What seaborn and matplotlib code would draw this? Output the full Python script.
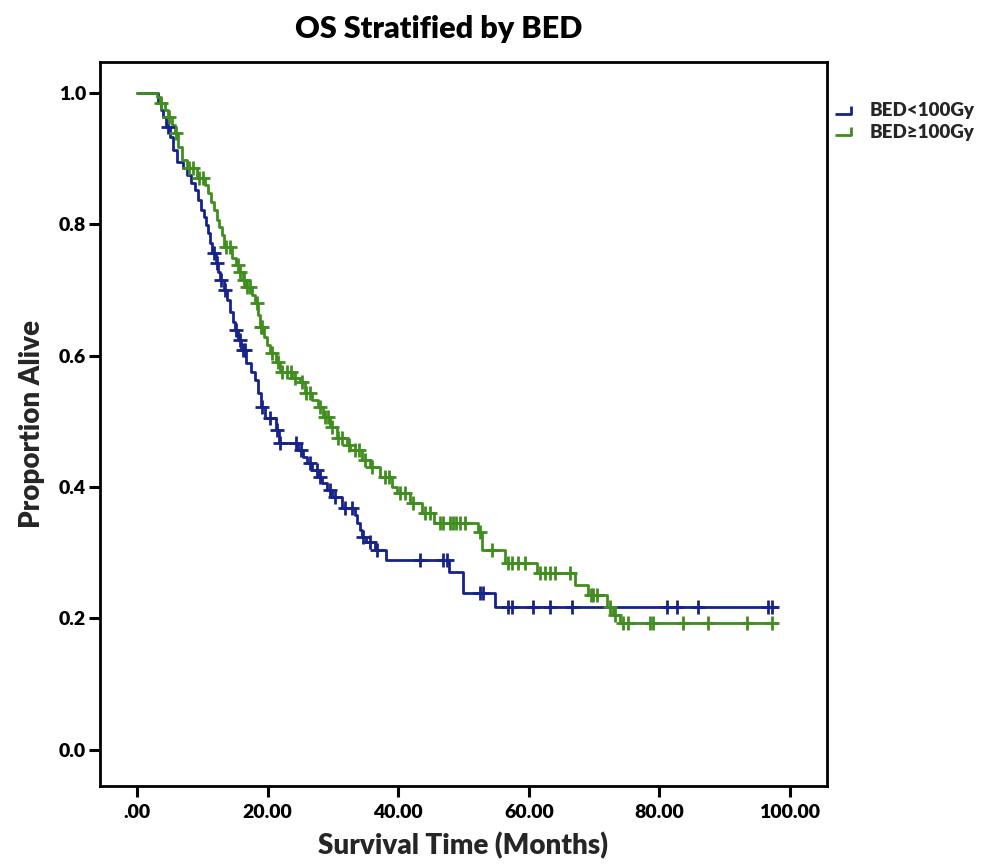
import numpy as np
import pandas as pd
import seaborn as sns
import matplotlib.pyplot as plt
from matplotlib.lines import Line2D
from matplotlib.path import Path

# Kaplan-Meier step data (months, proportion alive)
low_label = "BED<100Gy"
high_label = "BED≥100Gy"

low_time = [0.0, 3.2, 3.7, 4.0, 4.4, 5.1, 5.5, 6.1, 7.0, 7.7, 8.3, 8.9, 9.3, 9.8,
            10.3, 10.6, 10.9, 11.2, 11.5, 12.1, 12.4, 12.7, 13.3, 13.8, 14.2, 14.7,
            15.0, 15.5, 15.9, 16.7, 17.5, 18.1, 18.5, 19.0, 19.6, 21.3, 21.7, 24.7,
            25.4, 26.0, 26.8, 27.7, 28.3, 29.1, 29.9, 31.4, 33.4, 33.7, 34.1, 34.5,
            35.1, 36.4, 38.1, 47.8, 49.9, 54.8, 98.0]
low_surv = [1.0, 0.985, 0.974, 0.963, 0.948, 0.933, 0.913, 0.895, 0.886, 0.875, 0.863,
            0.852, 0.837, 0.822, 0.811, 0.799, 0.787, 0.772, 0.756, 0.741, 0.728, 0.715,
            0.700, 0.685, 0.667, 0.651, 0.639, 0.624, 0.609, 0.589, 0.575, 0.563, 0.543,
            0.522, 0.505, 0.487, 0.467, 0.457, 0.446, 0.437, 0.426, 0.416, 0.406, 0.396,
            0.385, 0.368, 0.358, 0.346, 0.335, 0.324, 0.317, 0.304, 0.289, 0.271, 0.239,
            0.218, 0.218]
low_censor = [4.7, 11.8, 12.3, 12.9, 13.4, 15.2, 15.7, 16.2, 16.5, 19.2, 20.4, 21.4,
              21.9, 24.4, 25.1, 26.5, 27.5, 28.0, 29.5, 30.3, 31.8, 32.9, 34.6, 35.7,
              36.8, 43.3, 46.9, 47.5, 52.5, 53.0, 56.8, 57.4, 60.6, 63.2, 66.6, 81.2,
              82.7, 85.9, 96.6, 97.2]

high_time = [0.0, 3.1, 3.5, 4.3, 4.7, 5.4, 5.8, 6.3, 6.9, 7.7, 9.2, 10.4, 10.9, 11.3,
             11.8, 12.3, 12.6, 13.0, 13.3, 14.5, 15.2, 15.6, 16.2, 16.7, 17.6, 18.1,
             18.5, 18.8, 19.4, 19.9, 20.4, 21.3, 21.9, 23.7, 25.0, 25.7, 26.8, 27.7,
             28.5, 29.6, 30.6, 32.2, 32.6, 34.5, 35.7, 37.2, 39.1, 39.8, 41.8, 43.6,
             45.5, 52.2, 52.8, 56.4, 61.3, 67.1, 69.1, 72.0, 72.9, 74.0, 98.0]
high_surv = [1.0, 0.994, 0.985, 0.974, 0.963, 0.951, 0.939, 0.918, 0.898, 0.886, 0.871,
             0.860, 0.848, 0.834, 0.822, 0.807, 0.796, 0.784, 0.766, 0.749, 0.738, 0.728,
             0.715, 0.705, 0.693, 0.680, 0.662, 0.644, 0.629, 0.616, 0.604, 0.591, 0.575,
             0.566, 0.560, 0.543, 0.533, 0.522, 0.507, 0.492, 0.475, 0.464, 0.457, 0.441,
             0.431, 0.416, 0.400, 0.391, 0.376, 0.361, 0.346, 0.332, 0.304, 0.285, 0.269,
             0.251, 0.236, 0.218, 0.205, 0.193, 0.193]
high_censor = [3.7, 4.9, 6.0, 7.9, 8.6, 9.4, 10.1, 13.6, 14.2, 15.4, 15.8, 16.4, 16.9,
               17.3, 18.3, 18.9, 19.1, 20.6, 21.5, 22.2, 23.0, 23.5, 24.2, 25.3, 25.9,
               26.5, 28.0, 28.8, 29.2, 29.9, 30.8, 31.4, 32.4, 33.4, 34.0, 34.9, 36.0,
               38.0, 38.6, 40.3, 41.0, 42.3, 44.1, 44.8, 46.4, 46.8, 47.9, 48.4, 48.8,
               49.5, 50.2, 52.5, 54.4, 56.8, 57.4, 58.3, 59.4, 61.7, 62.5, 63.2, 64.0,
               66.3, 69.5, 69.9, 70.4, 72.5, 73.2, 74.4, 75.2, 78.6, 79.0, 83.6, 87.4,
               93.4, 97.2]

x_ticks = [0, 20, 40, 60, 80, 100]
x_ticklabels = [".00", "20.00", "40.00", "60.00", "80.00", "100.00"]
y_ticks = [0.0, 0.2, 0.4, 0.6, 0.8, 1.0]
y_ticklabels = ["0.0", "0.2", "0.4", "0.6", "0.8", "1.0"]

palette = {low_label: "#16238a", high_label: "#3f8e1f"}
WEIGHT = "heavy"


def km_frame(label, time, surv, censor):
    steps = pd.DataFrame({"time": time, "surv": surv, "group": label})
    t = np.asarray(time)
    s = np.asarray(surv)
    idx = np.searchsorted(t, censor, side="right") - 1
    marks = pd.DataFrame({"time": censor, "surv": s[idx], "group": label})
    return steps, marks


low_steps, low_marks = km_frame(low_label, low_time, low_surv, low_censor)
high_steps, high_marks = km_frame(high_label, high_time, high_surv, high_censor)

sns.set_theme(style="ticks")
plt.rcParams["font.family"] = ["Lato", "DejaVu Sans"]
plt.rcParams["font.weight"] = WEIGHT
plt.rcParams["xtick.bottom"] = True
plt.rcParams["ytick.left"] = True

fig = plt.figure(figsize=(10.04, 8.67), dpi=100)
ax = fig.add_axes([0.0996, 0.0934, 0.7241, 0.8351])

for steps, marks in [(low_steps, low_marks), (high_steps, high_marks)]:
    color = palette[steps["group"].iloc[0]]
    sns.lineplot(data=steps, x="time", y="surv", ax=ax, color=color,
                 drawstyle="steps-post", estimator=None, sort=False,
                 linewidth=2.0, legend=False)
    sns.scatterplot(data=marks, x="time", y="surv", ax=ax, color=color,
                    marker="+", s=90, linewidth=2.0, legend=False, zorder=3)

ax.set_xlim(-5.7, 105.7)
ax.set_ylim(-0.055, 1.047)
ax.set_xticks(x_ticks)
ax.set_xticklabels(x_ticklabels)
ax.set_yticks(y_ticks)
ax.set_yticklabels(y_ticklabels)
ax.tick_params(axis="both", which="major", bottom=True, left=True, top=False,
               right=False, direction="out", length=8, width=2.2, color="black",
               labelsize=14, labelcolor="black", pad=2)
ax.tick_params(axis="x", pad=5)
for lab in ax.get_xticklabels() + ax.get_yticklabels():
    lab.set_fontweight(WEIGHT)
for sp in ax.spines.values():
    sp.set_visible(True)
    sp.set_color("black")
    sp.set_linewidth(2)

ax.set_xlabel("Survival Time (Months)", fontsize=20, fontweight=WEIGHT, labelpad=8)
ax.set_ylabel("Proportion Alive", fontsize=20, fontweight=WEIGHT, labelpad=10)

fig.text(0.437, 0.966, "OS Stratified by BED", ha="center", va="center",
         fontsize=22, fontweight=WEIGHT, color="black")

corner = Path([(-1.0, -0.5), (1.0, -0.5), (1.0, 0.5)])
handles = [
    Line2D([], [], linestyle="none", marker=corner, markersize=12,
           markerfacecolor="none", markeredgecolor=palette[lab], markeredgewidth=2)
    for lab in [low_label, high_label]
]
ax.legend(handles, [low_label, high_label], loc="upper left",
          bbox_to_anchor=(1.0, 0.952), frameon=False,
          handlelength=1.1, handletextpad=0.9, labelspacing=0.25,
          borderaxespad=0.0, borderpad=0.3, prop={"weight": WEIGHT, "size": 13.5})

fig.savefig("out.png", dpi=100, facecolor="white")
